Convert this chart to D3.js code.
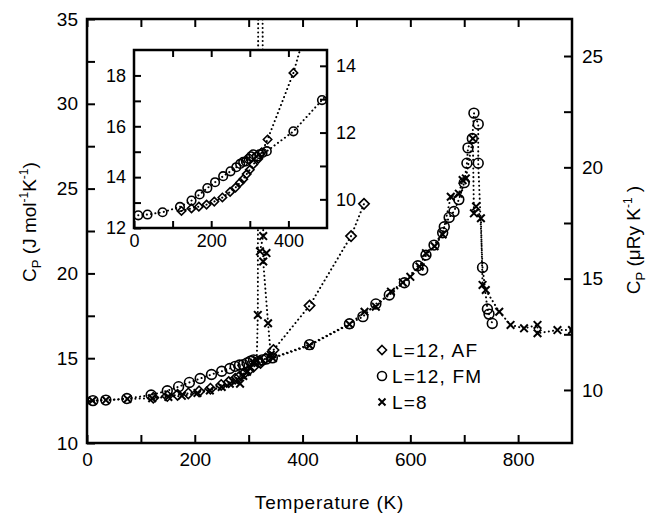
<!DOCTYPE html>
<html>
<head>
<meta charset="utf-8">
<script src="https://cdn.jsdelivr.net/npm/d3@7"></script>
<style>
  body { margin: 0; background: #fff; }
  text { font-family: "Liberation Sans", Arial, sans-serif; fill: #000; }
</style>
</head>
<body>
<div id="chart"></div>
<script>
const width = 649, height = 517;
const jPerRy = 1.3127; // J mol-1 per microRydberg

// [temperature K, Cp J mol-1 K-1]
const afData = [[123,12.67],[149,12.77],[168,12.84],[188,12.92],[208,13.04],[229,13.2],[249,13.42],
  [263,13.59],[275,13.79],[283,13.92],[292,14.12],[300,14.29],[309,14.5],[322,14.72],[331,14.98],
  [346,15.48],[413,18.1],[490,22.2],[514,24.1]];

const fmData = [[11,12.5],[35,12.53],[74,12.62],[119,12.83],[149,13.08],[170,13.32],[190,13.57],
  [210,13.8],[231,14.04],[250,14.23],[265,14.39],[275,14.52],[283,14.6],[290,14.62],[297,14.72],
  [303,14.82],[309,14.9],[318,14.8],[325,14.9],[333,14.95],[344,15.02],[413,15.8],[487,17.03],
  [512,17.45],[536,18.2],[561,18.73],[589,19.45],[614,20.45],[623,20.2],[629,21.08],[644,21.67],
  [660,22.4],[663,22.75],[672,23.3],[681,23.65],[690,24.35],[700,25.35],[705,26.5],[707,27.4],
  [715,27.95],[718,29.45],[726,28.8],[726,26.5],[734,20.35],[743,17.9],[746,17.6],[752,17.05]];

const l8Data = [[10,12.5],[35,12.53],[75,12.6],[121,12.64],[151,12.72],[176,12.78],[205,12.95],
  [228,13.1],[250,13.3],[265,13.5],[276,13.65],[284,13.5],[290,13.95],[297,14.2],[303,14.45],
  [310,14.75],[315,14.9],[317,17.55],[318,45],[325,45],[327,22.2],[321,21.3],[333,21.2],[327,20.7],
  [336,17.06],[341,15.2],[345,15.0],[413,15.75],[487,17.0],[515,17.74],[536,18.04],[564,18.92],
  [586,19.47],[600,19.8],[617,20.4],[629,21.19],[645,21.6],[660,22.3],[675,24.52],[690,24.7],
  [697,25.5],[703,25.6],[716,27.95],[718,23.54],[722,23.94],[731,23.25],[734,19.32],[740,19.02],
  [765,17.74],[786,16.96],[811,16.76],[836,16.96],[836,16.47],[873,16.66],[900,16.66]];

const xMajor = [0, 200, 400, 600, 800];
const xMinor = [100, 300, 500, 700];
const yMajor = [10, 15, 20, 25, 30, 35];
const yMinor = [12.5, 17.5, 22.5, 27.5, 32.5];
const ryMajor = [10, 15, 20, 25];
const ryMinor = [12.5, 17.5, 22.5];

const insetXMajor = [0, 200, 400];
const insetXMinor = [100, 300];
const insetYMajor = [12, 14, 16, 18];
const insetYMinor = [13, 15, 17];
const insetRyMajor = [10, 12, 14];
const insetRyMinor = [11, 13];

const legendItems = [
  {label: "L=12, AF", shape: "diamond"},
  {label: "L=12, FM", shape: "circle"},
  {label: "L=8", shape: "cross"}
];

const svg = d3.select("#chart").append("svg")
  .attr("width", width)
  .attr("height", height);

const main = {left: 87, right: 572, top: 19, bottom: 443};
const x = d3.scaleLinear().domain([0, 900]).range([main.left, main.right]);
const y = d3.scaleLinear().domain([10, 35]).range([main.bottom, main.top]);
const yRy = d3.scaleLinear().domain([10 / jPerRy, 35 / jPerRy]).range([main.bottom, main.top]);

const ins = {left: 134, right: 327, top: 50, bottom: 228};
const xi = d3.scaleLinear().domain([0, 500]).range([ins.left, ins.right]);
const yi = d3.scaleLinear().domain([12, 19]).range([ins.bottom, ins.top]);
const yiRy = d3.scaleLinear().domain([12 / jPerRy, 19 / jPerRy]).range([ins.bottom, ins.top]);

const fmtInt = d3.format("d");

function shapePath(shape, s) {
  if (shape == "diamond") return `M0,${-s}L${s},0L0,${s}L${-s},0Z`;
  if (shape == "cross") return `M${-s},${-s}L${s},${s}M${-s},${s}L${s},${-s}`;
  return d3.arc()({innerRadius: 0, outerRadius: s, startAngle: 0, endAngle: 2 * Math.PI});
}

function drawSeries(g, data, sx, sy, shape, s) {
  g.append("path")
    .datum(data)
    .attr("fill", "none")
    .attr("stroke", "#000")
    .attr("stroke-width", 2)
    .attr("stroke-linecap", "round")
    .attr("stroke-dasharray", "0.1,4.2")
    .attr("d", d3.line().x(d => sx(d[0])).y(d => sy(d[1])));

  g.selectAll(null)
    .data(data)
    .enter().append("path")
    .attr("transform", d => "translate(" + sx(d[0]) + "," + sy(d[1]) + ")")
    .attr("d", shapePath(shape, s))
    .attr("fill", "none")
    .attr("stroke", "#000")
    .attr("stroke-width", shape == "cross" ? 2 : 1.6);
}

// axis helper: ticks point inward, frame drawn separately
function addAxis(axis, tx, ty, fontSize) {
  const g = svg.append("g")
    .attr("transform", "translate(" + tx + "," + ty + ")")
    .call(axis);
  g.select(".domain").remove();
  g.selectAll(".tick line").attr("stroke-width", 2);
  g.selectAll("text").attr("font-size", fontSize).attr("font-family", null);
  return g;
}

// clip regions
const defs = svg.append("defs");
defs.append("clipPath").attr("id", "clip-main").append("rect")
  .attr("x", main.left).attr("y", main.top)
  .attr("width", main.right - main.left).attr("height", main.bottom - main.top);
defs.append("clipPath").attr("id", "clip-inset").append("rect")
  .attr("x", ins.left).attr("y", ins.top)
  .attr("width", ins.right - ins.left).attr("height", ins.bottom - ins.top);

// main plot data
const plot = svg.append("g").attr("clip-path", "url(#clip-main)");
drawSeries(plot, afData, x, y, "diamond", 5.2);
drawSeries(plot, fmData, x, y, "circle", 4.9);
drawSeries(plot, l8Data, x, y, "cross", 3.8);

// main axes
addAxis(d3.axisBottom(x).tickValues(xMajor).tickSize(-8).tickPadding(10).tickFormat(fmtInt), 0, main.bottom, 19);
addAxis(d3.axisBottom(x).tickValues(xMinor).tickSize(-8).tickFormat(""), 0, main.bottom, 19);
addAxis(d3.axisTop(x).tickValues(xMajor.concat(xMinor)).tickSize(-8).tickFormat(""), 0, main.top, 19);
addAxis(d3.axisLeft(y).tickValues(yMajor).tickSize(-8).tickPadding(9).tickFormat(fmtInt), main.left, 0, 19);
addAxis(d3.axisLeft(y).tickValues(yMinor).tickSize(-8).tickFormat(""), main.left, 0, 19);
addAxis(d3.axisRight(yRy).tickValues(ryMajor).tickSize(-8).tickPadding(10).tickFormat(fmtInt), main.right, 0, 19);
addAxis(d3.axisRight(yRy).tickValues(ryMinor).tickSize(-8).tickFormat(""), main.right, 0, 19);

svg.append("rect")
  .attr("x", main.left).attr("y", main.top)
  .attr("width", main.right - main.left).attr("height", main.bottom - main.top)
  .attr("fill", "none").attr("stroke", "#000").attr("stroke-width", 2.5);

// inset
svg.append("rect")
  .attr("x", ins.left).attr("y", ins.top)
  .attr("width", ins.right - ins.left).attr("height", ins.bottom - ins.top)
  .attr("fill", "#fff");

const insetPlot = svg.append("g").attr("clip-path", "url(#clip-inset)");
drawSeries(insetPlot, afData, xi, yi, "diamond", 4.2);
drawSeries(insetPlot, fmData, xi, yi, "circle", 4.3);

addAxis(d3.axisBottom(xi).tickValues(insetXMajor).tickSize(-7).tickPadding(6).tickFormat(fmtInt), 0, ins.bottom, 18);
addAxis(d3.axisBottom(xi).tickValues(insetXMinor).tickSize(-7).tickFormat(""), 0, ins.bottom, 18);
addAxis(d3.axisTop(xi).tickValues([100, 200, 300, 400]).tickSize(-7).tickFormat(""), 0, ins.top, 18);
addAxis(d3.axisLeft(yi).tickValues(insetYMajor).tickSize(-7).tickPadding(8).tickFormat(fmtInt), ins.left, 0, 18);
addAxis(d3.axisLeft(yi).tickValues(insetYMinor).tickSize(-7).tickFormat(""), ins.left, 0, 18);
addAxis(d3.axisRight(yiRy).tickValues(insetRyMajor).tickSize(-7).tickPadding(9).tickFormat(fmtInt), ins.right, 0, 18);
addAxis(d3.axisRight(yiRy).tickValues(insetRyMinor).tickSize(-7).tickFormat(""), ins.right, 0, 18);

svg.append("rect")
  .attr("x", ins.left).attr("y", ins.top)
  .attr("width", ins.right - ins.left).attr("height", ins.bottom - ins.top)
  .attr("fill", "none").attr("stroke", "#000").attr("stroke-width", 2.5);

// legend
const legend = svg.append("g").attr("transform", "translate(382,350)");
legendItems.forEach(function(item, i) {
  const row = legend.append("g").attr("transform", "translate(0," + (i * 26) + ")");
  row.append("path")
    .attr("d", shapePath(item.shape, item.shape == "cross" ? 3.5 : 4.5))
    .attr("fill", "none").attr("stroke", "#000")
    .attr("stroke-width", item.shape == "cross" ? 2 : 1.6);
  row.append("text")
    .attr("x", 10).attr("dy", "0.36em")
    .attr("font-size", 19)
    .attr("letter-spacing", 1.2)
    .text(item.label);
});

// axis titles
svg.append("text")
  .attr("x", (main.left + main.right) / 2).attr("y", 509)
  .attr("text-anchor", "middle")
  .attr("font-size", 19)
  .attr("letter-spacing", 0.8)
  .text("Temperature (K)");

const leftTitle = svg.append("text")
  .attr("transform", "translate(36,222) rotate(-90)")
  .attr("text-anchor", "middle")
  .attr("font-size", 19);
leftTitle.append("tspan").text("C");
leftTitle.append("tspan").attr("font-size", 13).attr("dy", 5).text("P");
leftTitle.append("tspan").attr("dy", -5).text("  (J mol");
leftTitle.append("tspan").attr("font-size", 12).attr("dy", -8).text("-1");
leftTitle.append("tspan").attr("dy", 8).text("K");
leftTitle.append("tspan").attr("font-size", 12).attr("dy", -8).text("-1");
leftTitle.append("tspan").attr("dy", 8).text(")");

const rightTitle = svg.append("text")
  .attr("transform", "translate(640,240) rotate(-90)")
  .attr("text-anchor", "middle")
  .attr("font-size", 19);
rightTitle.append("tspan").text("C");
rightTitle.append("tspan").attr("font-size", 13).attr("dy", 5).text("P");
rightTitle.append("tspan").attr("dy", -5).text("  (\u03bcRy K");
rightTitle.append("tspan").attr("font-size", 12).attr("dy", -8).text("-1");
rightTitle.append("tspan").attr("dy", 8).text(" )");
</script>
</body>
</html>
